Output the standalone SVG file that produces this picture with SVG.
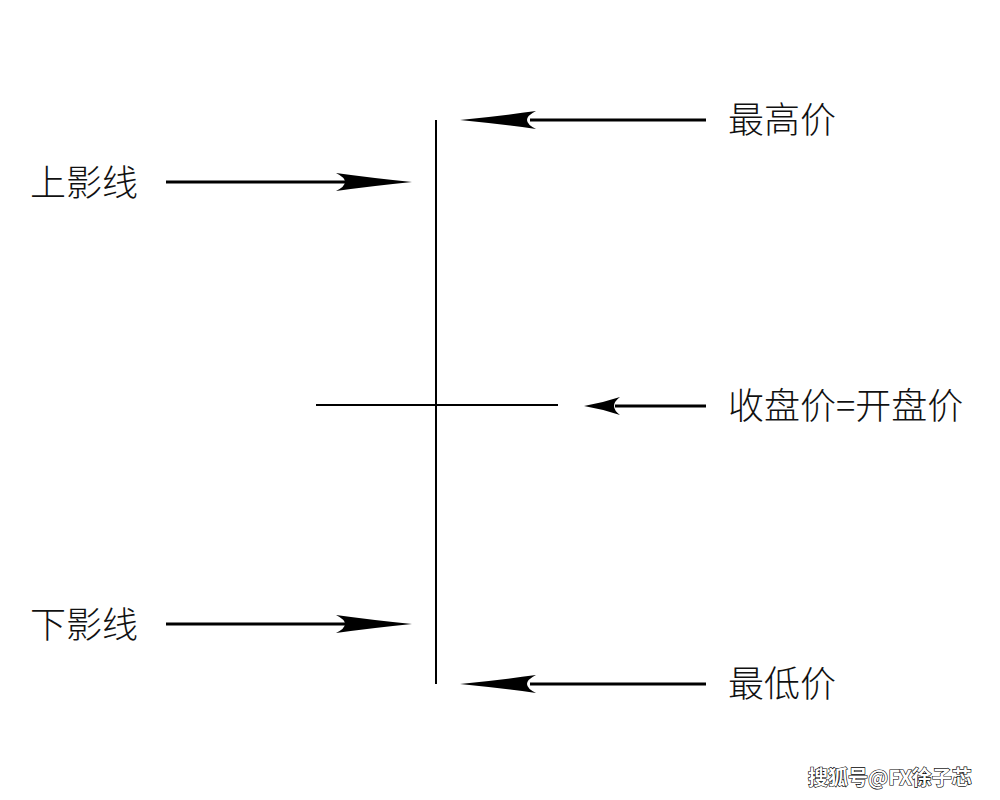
<svg xmlns="http://www.w3.org/2000/svg" width="1000" height="800" viewBox="0 0 1000 800">
<style>
.t{font-family:"Noto Sans CJK SC","Noto Sans",sans-serif;font-size:36px;font-weight:300;fill:#111}
.a{stroke:#000;stroke-width:3;fill:none}
.h{fill:#000}
.c{stroke:#000;stroke-width:2}
.w{font-family:"Noto Sans CJK SC",sans-serif;font-size:20px;font-weight:bold;fill:#fff;stroke:#000;stroke-width:1.2;paint-order:stroke}
</style>
<rect width="1000" height="800" fill="#fff"/>
<g id="candle">
<line class="c" x1="436" y1="120" x2="436" y2="684"/>
<line class="c" x1="316" y1="405" x2="558" y2="405"/>
</g>
<g id="connectors">
<line class="a" x1="530" y1="120" x2="706" y2="120"/>
<path class="h" d="M460,120 Q500,116 536,111 Q518,120 536,129 Q500,124 460,120Z"/>
<line class="a" x1="530" y1="684" x2="706" y2="684"/>
<path class="h" d="M460,684 Q500,680 536,675 Q518,684 536,693 Q500,688 460,684Z"/>
<line class="a" x1="166" y1="182" x2="345" y2="182"/>
<path class="h" d="M412,182 Q372,178 336,173 Q354,182 336,191 Q372,186 412,182Z"/>
<line class="a" x1="166" y1="624" x2="345" y2="624"/>
<path class="h" d="M412,624 Q372,620 336,615 Q354,624 336,633 Q372,628 412,624Z"/>
<line class="a" x1="615" y1="406" x2="706" y2="406"/>
<path class="h" d="M584,406 Q602,403 620,397 Q608,406 620,415 Q602,409 584,406Z"/>
</g>
<g id="labels">
<text class="t" x="30" y="196">上影线</text>
<text class="t" x="30" y="638">下影线</text>
<text class="t" x="728" y="133">最高价</text>
<text class="t" x="728" y="697">最低价</text>
<text class="t" x="728" y="419">收盘价=开盘价</text>
</g>
<text class="w" x="808" y="785">搜狐号@FX徐子芯</text>
</svg>
